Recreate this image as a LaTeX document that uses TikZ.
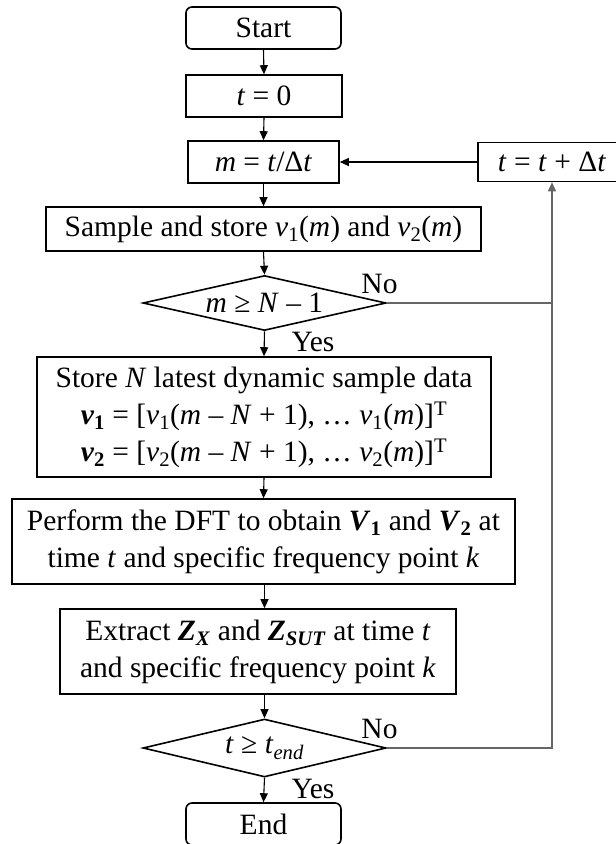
\documentclass[tikz,border=0pt]{standalone}
\usepackage{fontspec}
\setmainfont{Liberation Serif}
\usetikzlibrary{shapes.geometric,arrows.meta}
\newcommand{\vi}[1]{\textit{v}\textsubscript{#1}}
\newcommand{\bvi}[1]{\textbf{\textit{v}\textsubscript{#1}}}
\begin{document}
\begin{tikzpicture}[x=1pt,y=-1pt,
  font=\fontsize{29.5}{37}\selectfont,
  box/.style={draw=black, line width=1.6pt, rectangle, inner sep=0pt, align=center},
  term/.style={box, rounded corners=6pt},
  dec/.style={draw=black, line width=1.6pt, diamond, aspect=4.4, inner sep=0pt},
  tip/.style={-{Triangle[length=9pt,width=8pt]}},
  flow/.style={line width=1.1pt, tip},
  back/.style={draw=black!60, line width=1.2pt},
  lbl/.style={inner sep=0pt}
]
\useasboundingbox (0,0) rectangle (616,844);
\node[term, minimum width=155pt, minimum height=42pt] (start) at (263.5,28) {Start};
\node[box, minimum width=156pt, minimum height=42pt] (t0) at (264,96) {\textit{t} = 0};
\node[box, minimum width=151pt, minimum height=42pt] (m) at (263.5,162) {\textit{m} = \textit{t}/Δ\textit{t}};
\node[box, minimum width=435pt, minimum height=44pt] (sample) at (263.5,229) {Sample and store \vi{1}(\textit{m}) and \vi{2}(\textit{m})};
\node[dec, minimum width=243pt, minimum height=55pt] (d1) at (264.5,303) {\textit{m} ≥ \textit{N} – 1};
\node[box, minimum width=454pt, minimum height=120pt] (store) at (264,417) {Store \textit{N} latest dynamic sample data\\
\bvi{1} = [\vi{1}(\textit{m} – \textit{N} + 1), … \vi{1}(\textit{m})]\textsuperscript{T}\\
\bvi{2} = [\vi{2}(\textit{m} – \textit{N} + 1), … \vi{2}(\textit{m})]\textsuperscript{T}};
\node[box, minimum width=503pt, minimum height=85pt] (dft) at (263.5,541.5) {Perform the DFT to obtain \textbf{\textit{V}\textsubscript{1}} and \textbf{\textit{V}\textsubscript{2}} at\\
time \textit{t} and specific frequency point \textit{k}};
\node[box, minimum width=396pt, minimum height=85pt] (ext) at (258,651.5) {Extract \textbf{\textit{Z}\textsubscript{\textit{X}}} and \textbf{\textit{Z}\textsubscript{\textit{SUT}}} at time \textit{t}\\
and specific frequency point \textit{k}};
\node[dec, minimum width=243pt, minimum height=58pt] (d2) at (264.5,748) {\textit{t} ≥ \textit{t}\textsubscript{\textit{end}}};
\node[term, minimum width=155pt, minimum height=42pt] (end) at (263.5,824) {End};
\node[box, minimum width=148pt, minimum height=39pt] (tb) at (552,162) {\textit{t} = \textit{t} + Δ\textit{t}};

\node[lbl] (no1) at (379.5,284) {No};
\node[lbl] (yes1) at (313,342) {Yes};
\node[lbl] (no2) at (379.5,729) {No};
\node[lbl] (yes2) at (313,789) {Yes};

\draw[flow] (start.south) -- (t0.north);
\draw[flow] (t0.south) -- (m.north);
\draw[flow] (m.south) -- (sample.north);
\draw[flow] (sample.south) -- (d1.north);
\draw[flow] (d1.south) -- (store.north);
\draw[flow] (store.south) -- (dft.north);
\draw[flow] (d2.north |- dft.south) -- (d2.north |- ext.north);
\draw[flow] (d2.north |- ext.south) -- (d2.north);
\draw[flow] (d2.south) -- (end.north);

\coordinate (c1) at (552,303);
\coordinate (c2) at (552,748);
\draw[back] (d2.east) -- (c2) -- (c1);
\draw[back] (d1.east) -- (c1);
\draw[back, tip] (c1) -- (tb.south);
\draw[flow] (tb.west) -- (m.east);
\end{tikzpicture}
\end{document}
